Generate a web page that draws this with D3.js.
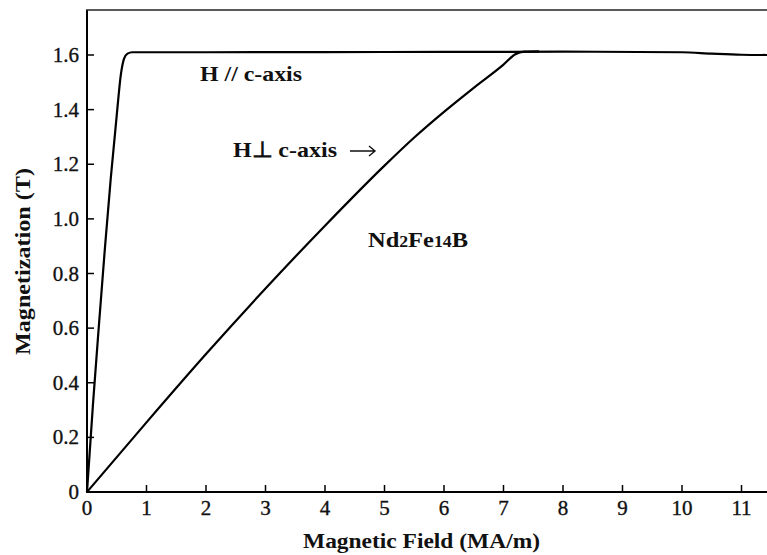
<!DOCTYPE html>
<html>
<head>
<meta charset="utf-8">
<style>
    body { margin: 0; background: #fff; }
    svg { display: block; }
    .tick-label { font-family: "Liberation Serif", "DejaVu Serif", serif; fill: #111; stroke: #111; stroke-width: 0.35px; }
    .title { font-family: "Liberation Serif", serif; font-weight: bold; fill: #111; }
    .curve { fill: none; stroke: #000; stroke-width: 2.2px; stroke-linejoin: round; }
</style>
</head>
<body>
<svg id="chart"></svg>
<script src="https://d3js.org/d3.v7.min.js"></script>
<script>
    var vWidth = 767;
    var vHeight = 555;

    // tick values
    var xTicks = [0, 1, 2, 3, 4, 5, 6, 7, 8, 9, 10, 11];
    var yTicks = [0, 0.2, 0.4, 0.6, 0.8, 1.0, 1.2, 1.4, 1.6];
    var yTickLabels = ['0', '0.2', '0.4', '0.6', '0.8', '1.0', '1.2', '1.4', '1.6'];

    // H // c-axis (easy axis)
    var easyH = [0, 0.1, 0.2, 0.3, 0.4, 0.5, 0.57, 0.62, 0.68, 0.76, 2.0, 5.0, 8.0, 10.0, 10.5, 11.0, 11.45];
    var easyM = [0, 0.32, 0.61, 0.89, 1.15, 1.38, 1.53, 1.585, 1.605, 1.61, 1.61, 1.611, 1.612, 1.61, 1.605, 1.601, 1.600];

    // H perpendicular c-axis (hard axis)
    var hardH = [0, 1, 2, 3, 4, 5, 5.5, 6, 6.5, 7, 7.2, 7.35, 7.6];
    var hardM = [0, 0.255, 0.505, 0.745, 0.975, 1.195, 1.298, 1.392, 1.48, 1.565, 1.603, 1.612, 1.613];

    var svg = d3.select('#chart').attr('width', vWidth).attr('height', vHeight);

    var x = d3.scaleLinear().domain([0, 11]).range([87, 741.5]);
    var y = d3.scaleLinear().domain([0, 1.6]).range([492, 55]);

    // frame: left axis, bottom axis, top line
    svg.append('line').attr('x1', 87).attr('x2', 87).attr('y1', 10).attr('y2', 493)
        .attr('stroke', '#000').attr('stroke-width', 2);
    svg.append('line').attr('x1', 86).attr('x2', vWidth).attr('y1', y(0)).attr('y2', y(0))
        .attr('stroke', '#000').attr('stroke-width', 2);
    svg.append('line').attr('x1', 86).attr('x2', vWidth).attr('y1', 10).attr('y2', 10)
        .attr('stroke', '#222').attr('stroke-width', 1.6);

    // y ticks (inward)
    svg.selectAll('.ytick').data(yTicks).enter().append('line')
        .attr('x1', 87).attr('x2', 94)
        .attr('y1', function (d) { return y(d); }).attr('y2', function (d) { return y(d); })
        .attr('stroke', '#000').attr('stroke-width', 1.5);
    svg.selectAll('.ylab').data(yTicks).enter().append('text')
        .attr('class', 'tick-label')
        .attr('x', 79).attr('y', function (d) { return y(d) + 7; })
        .attr('text-anchor', 'end').attr('font-size', 21)
        .text(function (d, i) { return yTickLabels[i]; });

    // x ticks (inward)
    svg.selectAll('.xtick').data(xTicks.slice(1)).enter().append('line')
        .attr('x1', function (d) { return x(d); }).attr('x2', function (d) { return x(d); })
        .attr('y1', y(0)).attr('y2', y(0) - 7)
        .attr('stroke', '#000').attr('stroke-width', 1.5);
    svg.selectAll('.xlab').data(xTicks).enter().append('text')
        .attr('class', 'tick-label')
        .attr('x', function (d) { return x(d); }).attr('y', 515)
        .attr('text-anchor', 'middle').attr('font-size', 21)
        .text(function (d) { return d; });

    // curves
    var line = d3.line()
        .x(function (d) { return x(d[0]); })
        .y(function (d) { return y(d[1]); })
        .curve(d3.curveMonotoneX);

    svg.append('path').attr('class', 'curve')
        .attr('d', line(d3.zip(hardH, hardM)));
    svg.append('path').attr('class', 'curve')
        .attr('d', line(d3.zip(easyH, easyM)));

    // axis titles
    svg.append('text').attr('class', 'title')
        .attr('x', 303).attr('y', 548).attr('font-size', 22)
        .attr('textLength', 237).attr('lengthAdjust', 'spacingAndGlyphs')
        .text('Magnetic Field (MA/m)');
    svg.append('text').attr('class', 'title')
        .attr('transform', 'translate(30,355) rotate(-90)')
        .attr('font-size', 22)
        .attr('textLength', 187).attr('lengthAdjust', 'spacingAndGlyphs')
        .text('Magnetization (T)');

    // annotations
    svg.append('text').attr('class', 'title')
        .attr('x', 200).attr('y', 81).attr('font-size', 22)
        .attr('textLength', 102).attr('lengthAdjust', 'spacingAndGlyphs')
        .text('H // c-axis');
    svg.append('text').attr('class', 'title')
        .attr('x', 233).attr('y', 157).attr('font-size', 22)
        .attr('textLength', 104).attr('lengthAdjust', 'spacingAndGlyphs')
        .text('H\u22A5 c-axis');
    // arrow after the label
    svg.append('path')
        .attr('d', 'M350,151 L375,151 M369,146 L375,151 L369,156')
        .attr('fill', 'none').attr('stroke', '#111').attr('stroke-width', 1.4);
    var nd = svg.append('text').attr('class', 'title')
        .attr('x', 368).attr('y', 247).attr('font-size', 22)
        .attr('textLength', 100).attr('lengthAdjust', 'spacingAndGlyphs');
    nd.append('tspan').text('Nd');
    nd.append('tspan').attr('font-size', 16).text('2');
    nd.append('tspan').text('Fe');
    nd.append('tspan').attr('font-size', 16).text('14');
    nd.append('tspan').text('B');
</script>
</body>
</html>
